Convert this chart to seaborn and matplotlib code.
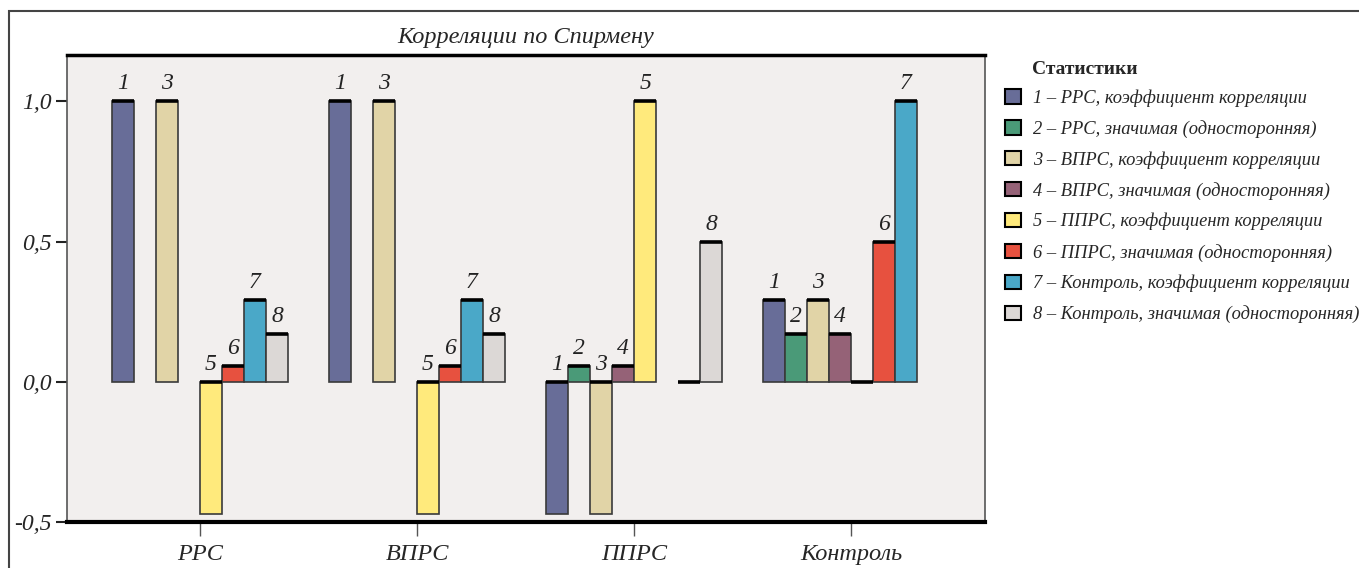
import numpy as np
import pandas as pd
import matplotlib
matplotlib.use("Agg")
import matplotlib.pyplot as plt
import seaborn as sns
from matplotlib.patches import Patch, Rectangle

# --- data ---
groups = ['РРС', 'ВПРС', 'ППРС', 'Контроль']
stat1 = [1.0, 1.0, -0.47, 0.29]
stat2 = [np.nan, np.nan, 0.057, 0.17]
stat3 = [1.0, 1.0, -0.47, 0.29]
stat4 = [np.nan, np.nan, 0.057, 0.17]
stat5 = [-0.47, -0.47, 1.0, 0.0]
stat6 = [0.057, 0.057, np.nan, 0.5]
stat7 = [0.29, 0.29, 0.0, 1.0]
stat8 = [0.17, 0.17, 0.5, np.nan]

stat_labels = [
    '1 – РРС, коэффициент корреляции',
    '2 – РРС, значимая (односторонняя)',
    '3 – ВПРС, коэффициент корреляции',
    '4 – ВПРС, значимая (односторонняя)',
    '5 – ППРС, коэффициент корреляции',
    '6 – ППРС, значимая (односторонняя)',
    '7 – Контроль, коэффициент корреляции',
    '8 – Контроль, значимая (односторонняя)',
]
colors = ['#686d98', '#4a9a78', '#e1d4a7', '#956277', '#ffea7c',
          '#e7513f', '#4aa8c8', '#dcd8d6']

series = [stat1, stat2, stat3, stat4, stat5, stat6, stat7, stat8]
rows = []
for i, vals in enumerate(series):
    for g, v in zip(groups, vals):
        rows.append({'group': g, 'stat': stat_labels[i], 'value': v})
df = pd.DataFrame(rows)

sns.set_style('white')
plt.rcParams['font.family'] = ['Liberation Serif', 'DejaVu Serif']

fig = plt.figure(figsize=(13.59, 5.68), dpi=100)
ax = fig.add_axes([67 / 1359, 46 / 568, (985 - 67) / 1359, (522 - 55) / 568])
ax.set_facecolor('#f2efee')

sns.barplot(data=df, x='group', y='value', hue='stat', order=groups,
            hue_order=stat_labels, palette=colors, saturation=1, width=0.81,
            errorbar=None, edgecolor='#3a3a3a', linewidth=1.2,
            legend=False, ax=ax)

# thick top edge and number labels
for k, cont in enumerate(ax.containers):
    for p in cont.patches:
        h = p.get_height()
        if np.isnan(h):
            continue
        x0 = p.get_x()
        w = p.get_width()
        top = max(0.0, h)
        ax.plot([x0, x0 + w], [top, top], color='black', lw=2.6,
                solid_capstyle='butt', zorder=4)
        if h != 0:
            ax.text(x0 + w / 2, top + 0.025, str(k + 1), ha='center',
                    va='bottom', fontsize=17, style='italic', color='#222222')

ax.set_ylim(-0.5, 1.165)
ax.set_xlim(-0.613, 3.617)
ax.set_yticks([-0.5, 0.0, 0.5, 1.0])
ax.set_yticklabels(['-0,5', '0,0', '0,5', '1,0'])
ax.set_xlabel('')
ax.set_ylabel('')
ax.tick_params(axis='y', length=8, width=1.5, pad=3, labelsize=17,
               color='#222222', left=True)
ax.tick_params(axis='x', length=10, width=1.0, pad=6, labelsize=17.5,
               color='#555555', bottom=True)
for lab in ax.get_xticklabels() + ax.get_yticklabels():
    lab.set_style('italic')

ax.spines['bottom'].set_linewidth(3)
ax.spines['bottom'].set_color('black')
ax.spines['top'].set_linewidth(2.5)
ax.spines['top'].set_color('black')
ax.spines['left'].set_linewidth(1.2)
ax.spines['left'].set_color('#555555')
ax.spines['right'].set_linewidth(1.2)
ax.spines['right'].set_color('#555555')

ax.set_title('Корреляции по Спирмену', fontsize=17.5, style='italic', pad=9)

# legend
handles = [Patch(facecolor=c, edgecolor='black', linewidth=1.5) for c in colors]
fig.legend(handles, stat_labels, loc='upper left',
           bbox_to_anchor=(1005 / 1359, 1 - 89 / 568), frameon=False,
           prop={'size': 13.3, 'style': 'italic'}, handlelength=0.84,
           handleheight=0.84, handletextpad=0.68, labelspacing=0.71,
           borderaxespad=0, borderpad=0)
fig.text(1032 / 1359, 1 - 70 / 568, 'Статистики', fontsize=14,
         fontweight='bold', va='center', ha='left')

# outer frame cut by the image edges
fig.add_artist(Rectangle((9 / 1359, -0.2), 1.2, 1.2 - 11 / 568,
                         transform=fig.transFigure, fill=False,
                         edgecolor='#444444', linewidth=1.5))

fig.savefig('out.png', dpi=100)
